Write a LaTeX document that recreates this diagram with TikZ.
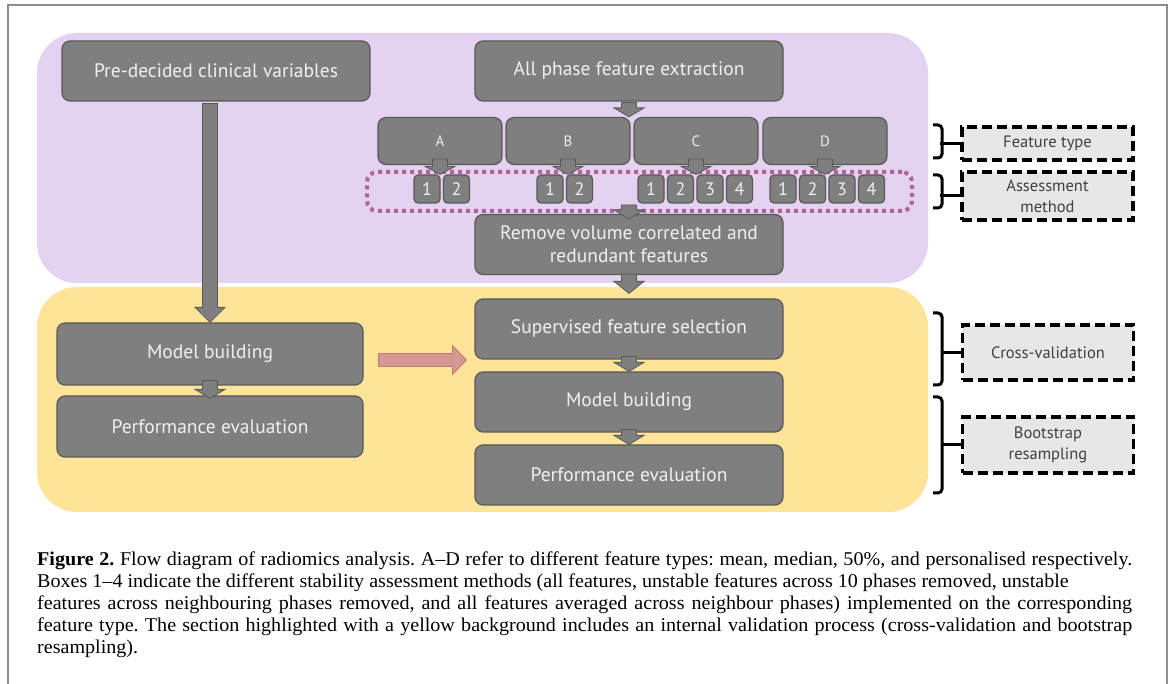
\documentclass[tikz,border=0pt]{standalone}
\usepackage{fontspec}
\setmainfont{Liberation Serif}
\newfontfamily\capfont[FakeStretch=1.03]{Liberation Serif}
\newfontfamily\boxfont{PT Sans}
\usetikzlibrary{calc,arrows.meta}

\definecolor{lilac}{RGB}{228,211,240}
\definecolor{butter}{RGB}{254,228,153}
\definecolor{boxgray}{RGB}{127,127,127}
\definecolor{boxedge}{RGB}{88,88,88}
\definecolor{dotpink}{RGB}{178,98,150}
\definecolor{salmon}{RGB}{214,152,148}
\definecolor{salmonedge}{RGB}{190,120,118}
\definecolor{labelgray}{RGB}{231,231,231}
\definecolor{framegray}{RGB}{140,140,140}

\tikzset{
flowbox/.style={draw=boxedge,line width=1.2pt,fill=boxgray,rounded corners=8pt,text=white!94!black,font=\boxfont\fontsize{19.5}{23}\selectfont,minimum width=308pt,minimum height=60pt,inner sep=0pt,align=center},
typebox/.style={flowbox,minimum width=124pt,minimum height=47pt,font=\boxfont\fontsize{15}{18}\selectfont},
numbox/.style={flowbox,rounded corners=4pt,minimum width=26pt,minimum height=28pt,font=\boxfont\fontsize{18}{20}\selectfont},
sidebox/.style={draw=black,line width=3.5pt,dash pattern=on 10pt off 5pt,fill=labelgray,text=black!75,font=\boxfont\fontsize{16.5}{21}\selectfont,minimum width=171pt,inner sep=0pt,align=center},
dotframe/.style={draw=dotpink,line width=4pt,dash pattern=on 4pt off 4pt,rounded corners=10pt,inner sep=0pt},
downarrow/.style={fill=boxgray,draw=boxedge,line width=0.8pt,to path={let \p1=(\tikztostart),\p2=(\tikztotarget) in
(\x1-7.5pt,\y1) -- (\x1+7.5pt,\y1) -- (\x1+7.5pt,\y2+#1) -- (\x1+15pt,\y2+#1) -- (\x1,\y2) -- (\x1-15pt,\y2+#1) -- (\x1-7.5pt,\y2+#1) -- cycle}},
downarrow/.default=9pt,
pinkarrow/.style={fill=salmon,draw=salmonedge,line width=0.8pt,to path={let \p1=(\tikztostart),\p2=(\tikztotarget) in
(\x1,\y1+6.5pt) -- (\x2-14pt,\y1+6.5pt) -- (\x2-14pt,\y1+14.5pt) -- (\x2,\y1) -- (\x2-14pt,\y1-14.5pt) -- (\x2-14pt,\y1-6.5pt) -- (\x1,\y1-6.5pt) -- cycle}},
brk/.style={line width=3pt,rounded corners=4pt},
}
\newcommand{\fullline}[1]{\makebox[1095pt][s]{#1}}
\newcommand{\shortline}[1]{\makebox[1095pt][l]{#1}}

\begin{document}
\begin{tikzpicture}[x=1pt,y=-1pt]
\useasboundingbox (0,0) rectangle (1171,684);
\draw[framegray,line width=1.5pt] (8,690) -- (8,5) -- (1167,5) -- (1167,690);
\fill[lilac,rounded corners=40pt] (37,33) rectangle (928,283);
\fill[butter,rounded corners=40pt] (37,287) rectangle (928,512);
\node[flowbox] (pre) at (216,71) {Pre-decided clinical variables};
\node[flowbox] (allp) at (629,71) {All phase feature extraction};
\node[typebox] (nA) at (440,141) {A};
\node[typebox] (nB) at (568,141) {B};
\node[typebox] (nC) at (696,141) {C};
\node[typebox] (nD) at (825,141) {D};
\node[dotframe,minimum width=545pt,minimum height=39pt] (row) at (639.5,191.5) {};
\foreach \g/\x/\k in {A/414/2,B/537/2,C/638/4,D/770/4}
\foreach \i in {1,...,\k}
\node[numbox] (n\g\i) at ({\x+(\i-1)*29.5+13},189) {\i};
\node[flowbox] (rem) at (629,244.5) {Remove volume correlated and\\redundant features};
\node[flowbox] (sup) at (629,329) {Supervised feature selection};
\node[flowbox] (mbr) at (629,402) {Model building};
\node[flowbox] (per) at (629,475) {Performance evaluation};
\node[flowbox,minimum width=306pt,minimum height=62pt] (mbl) at (210,354) {Model building};
\node[flowbox,minimum width=306pt,minimum height=61pt] (pel) at (210,426.5) {Performance evaluation};
\node[sidebox,minimum height=33pt] (ft) at (1047.5,143.5) {Feature type};
\node[sidebox,minimum height=48pt] (am) at (1047.5,196) {Assessment\\method};
\node[sidebox,minimum height=55pt] (cv) at (1048,352.5) {Cross-validation};
\node[sidebox,minimum height=56pt] (bs) at (1048,445) {Bootstrap\\resampling};
\draw[downarrow] ([yshift=-1pt]allp.south) to (allp.south |- nB.north);
\foreach \g in {A,B,C,D}
\draw[downarrow=8pt] ([yshift=6pt]n\g.south) to (n\g.south |- n\g1.north);
\draw[downarrow] ($(rem.north |- row.south)+(0,-8)$) to ([yshift=-5pt]rem.north);
\draw[downarrow=12pt] ([yshift=1pt]rem.south) to ([yshift=5pt]sup.north);
\draw[downarrow] ([yshift=3pt]sup.south) to (mbr.north);
\draw[downarrow] ([yshift=3pt]mbr.south) to (per.north);
\draw[downarrow=15pt] ([yshift=-2pt]mbl.north |- pre.south) to (mbl.north);
\draw[downarrow] ([yshift=5pt]mbl.south) to ([yshift=-3pt]pel.north);
\draw[pinkarrow] ($(mbl.east)+(15,6)$) to ($(mbl.east -| sup.west)+(-8,6)$);
\foreach \ya/\yb/\nm in {125/158/ft,175/208/am,313/385/cv,397/493/bs}{
\draw[brk] (933,\ya) -- (942,\ya) -- (942,\yb) -- (933,\yb);
\draw[brk] ([xshift=-20pt]\nm.west) -- (\nm.west);
}
\node[anchor=north west,inner sep=0pt,align=left,font=\capfont\fontsize{19.5}{22}\selectfont\frenchspacing] (cap) at (37,551.5) {\fullline{\textbf{Figure 2.} Flow diagram of radiomics analysis. A–D refer to different feature types: mean, median, 50\%, and personalised respectively.}\\
\shortline{Boxes 1–4 indicate the different stability assessment methods (all features, unstable features across 10 phases removed, unstable}\\
\fullline{features across neighbouring phases removed, and all features averaged across neighbour phases) implemented on the corresponding}\\
\fullline{feature type. The section highlighted with a yellow background includes an internal validation process (cross-validation and bootstrap}\\
\shortline{resampling).}};
\end{tikzpicture}
\end{document}
